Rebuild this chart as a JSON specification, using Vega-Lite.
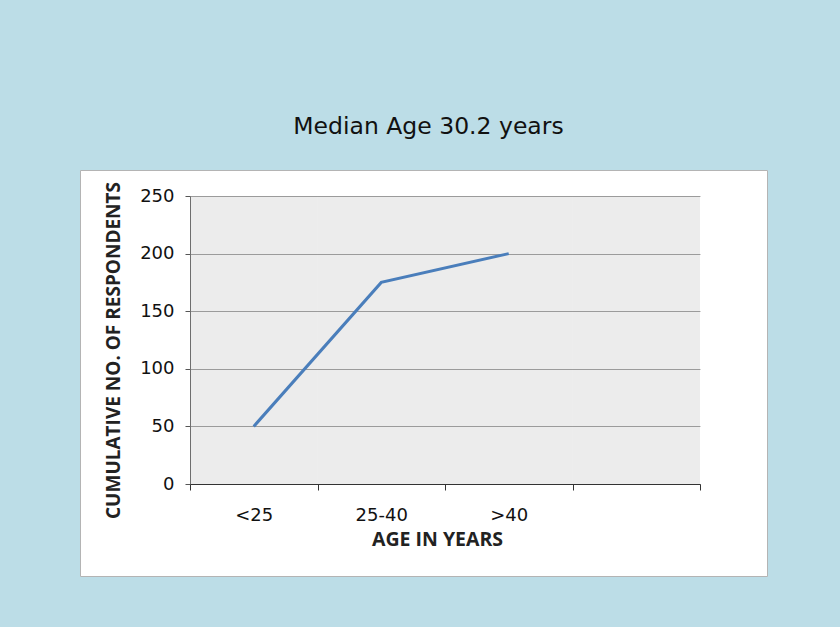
{
  "$schema": "https://vega.github.io/schema/vega-lite/v6.json",
  "width": 687,
  "height": 406,
  "autosize": "none",
  "padding": {"left": 80, "top": 170, "right": 73, "bottom": 51},
  "background": "#bcdde7",
  "config": {
    "view": {"fill": "#ffffff", "stroke": "#b4b4b4", "strokeWidth": 1},
    "font": "DejaVu Sans"
  },
  "title": {
    "text": "Median Age 30.2 years",
    "fontSize": 23.5,
    "fontWeight": "normal",
    "font": "DejaVu Sans",
    "color": "#111111",
    "offset": 32,
    "dx": 5
  },
  "data": {
    "values": [
      {"age": "<25", "count": 50},
      {"age": "25-40", "count": 175},
      {"age": ">40", "count": 200},
      {"age": " ", "count": null}
    ]
  },
  "encoding": {
    "x": {
      "field": "age",
      "type": "nominal",
      "sort": null,
      "scale": {"type": "band", "domain": ["<25", "25-40", ">40", " "], "range": [110, 620], "paddingInner": 0, "paddingOuter": 0},
      "axis": {
        "title": "AGE IN YEARS",
        "offset": -92,
        "labelAngle": 0,
        "tickBand": "extent",
        "tickSize": 6,
        "tickColor": "#333333",
        "domainColor": "#333333",
        "domainWidth": 1.2,
        "labelFont": "DejaVu Sans",
        "labelFontSize": 18,
        "labelColor": "#111111",
        "labelPadding": 16,
        "titleFont": "Open Sans",
        "titleFontSize": 19.5,
        "titleFontWeight": "bold",
        "titleColor": "#222222",
        "titlePadding": 6,
        "titleX": 357
      }
    }
  },
  "layer": [
    {
      "mark": {"type": "rect", "color": "#000000", "opacity": 0.075},
      "encoding": {
        "y": {"datum": 0, "type": "quantitative"},
        "y2": {"datum": 250}
      }
    },
    {
      "mark": {"type": "line", "color": "#4a7ebb", "strokeWidth": 3},
      "encoding": {
        "y": {
          "field": "count",
          "type": "quantitative",
          "scale": {"domain": [0, 250], "range": [314, 26], "nice": false},
          "axis": {
            "title": "CUMULATIVE NO. OF RESPONDENTS",
            "offset": -110,
            "values": [0, 50, 100, 150, 200, 250],
            "grid": true,
            "gridColor": "#a8a8a8",
            "gridWidth": 1,
            "tickSize": 5,
            "tickColor": "#555555",
            "domainColor": "#777777",
            "labelFont": "DejaVu Sans",
            "labelFontSize": 18,
            "labelColor": "#111111",
            "labelPadding": 11,
            "titleFont": "Open Sans",
            "titleFontSize": 19,
            "titleFontWeight": "bold",
            "titleColor": "#222222",
            "titlePadding": 16,
            "titleY": 180
          }
        }
      }
    }
  ]
}
